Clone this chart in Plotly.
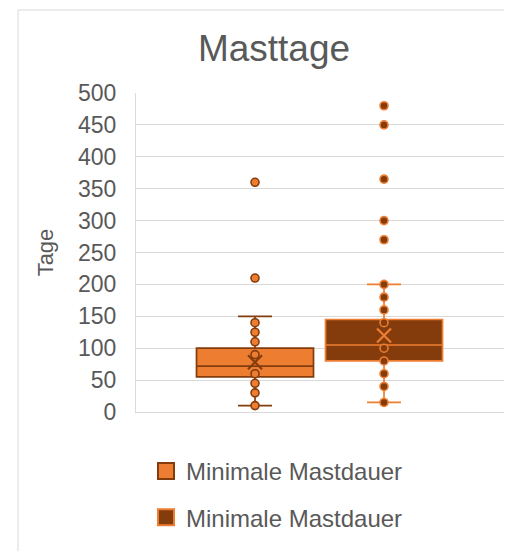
import plotly.graph_objects as go

# ---- data ----
series_names = ["Minimale Mastdauer", "Minimale Mastdauer"]
positions = [1, 2]
q1_vals = [55, 80]
median_vals = [72, 105]
q3_vals = [100, 145]
lower_vals = [10, 15]
upper_vals = [150, 200]
mean_vals = [78, 120]
points_1 = [10, 30, 45, 60, 90, 110, 125, 140, 210, 360]
points_2 = [15, 40, 60, 80, 100, 140, 160, 180, 200, 270, 300, 365, 450, 480]
y_ticks = [0, 50, 100, 150, 200, 250, 300, 350, 400, 450, 500]

ORANGE = "#ED7D31"
DARK = "#843C0C"
GRAY = "#595959"
GRID = "#D9D9D9"
FONT = "Liberation Sans, Arial, sans-serif"

fills = [ORANGE, DARK]
lines = [DARK, ORANGE]
all_points = [points_1, points_2]

# page body has an 8px margin; figure sized to fit the 512x559 window
W, H = 504, 543
L, T = 128, 85
PLOT_BOTTOM = 404
B = H - PLOT_BOTTOM
R = 0
pw = W - L - R
ph = H - T - B

fig = go.Figure()
for i in range(2):
    fig.add_trace(go.Box(
        name=series_names[i],
        x=[positions[i]],
        q1=[q1_vals[i]], median=[median_vals[i]], q3=[q3_vals[i]],
        lowerfence=[lower_vals[i]], upperfence=[upper_vals[i]],
        boxpoints=False,
        width=0.907,
        whiskerwidth=0.29,
        fillcolor=fills[i],
        line=dict(color=lines[i], width=1.7),
        legendgroup=f"g{i}",
        showlegend=False,
        hoverinfo="skip",
    ))
for i in range(2):
    fig.add_trace(go.Scatter(
        x=[positions[i]] * len(all_points[i]),
        y=all_points[i],
        mode="markers",
        marker=dict(size=8, color=fills[i], line=dict(color=lines[i], width=1.6)),
        legendgroup=f"g{i}",
        showlegend=False,
        hoverinfo="skip",
    ))
    fig.add_trace(go.Scatter(
        x=[positions[i]], y=[mean_vals[i]],
        mode="markers",
        marker=dict(symbol="x-thin", size=14, line=dict(color=lines[i], width=2.2)),
        legendgroup=f"g{i}",
        showlegend=False,
        hoverinfo="skip",
    ))
# legend entries (square swatches like the box colours)
for i in range(2):
    fig.add_trace(go.Scatter(
        name=series_names[i],
        x=[None], y=[None],
        mode="markers",
        marker=dict(symbol="square", size=17, color=fills[i], line=dict(color=lines[i], width=2)),
        legendgroup=f"g{i}",
        showlegend=True,
    ))

fx0 = (10 - L) / pw
fy_top = (PLOT_BOTTOM - 2) / ph
frame_path = f"M {fx0:.4f},-1 L {fx0:.4f},{fy_top:.4f} L 1.3,{fy_top:.4f}"

fig.update_layout(
    width=W, height=H,
    margin=dict(l=L, r=R, t=T, b=B, autoexpand=False),
    paper_bgcolor="white",
    plot_bgcolor="white",
    boxmode="overlay",
    font=dict(family=FONT, color=GRAY),
    title=dict(
        text="Masttage",
        font=dict(size=37, color=GRAY, family=FONT),
        xref="paper", x=(266 - L) / pw, xanchor="center",
        yref="container", y=1 - 40 / H, yanchor="middle",
    ),
    xaxis=dict(
        range=[0.0775, 2.992],
        showgrid=False, zeroline=False,
        showticklabels=False, ticks="",
        showline=True, linecolor=GRID, linewidth=1,
    ),
    yaxis=dict(
        range=[0, 500],
        tickvals=y_ticks,
        showgrid=True, gridcolor=GRID, gridwidth=1,
        zeroline=False,
        showline=True, linecolor=GRID, linewidth=1,
        tickfont=dict(size=23, color=GRAY, family=FONT),
        ticklabelstandoff=14,
        title=dict(text="Tage", font=dict(size=22, color=GRAY, family=FONT), standoff=18),
    ),
    legend=dict(
        x=(138 - L) / pw, xanchor="left",
        y=(PLOT_BOTTOM - 441) / ph, yanchor="top",
        font=dict(size=24, color=GRAY, family=FONT),
        tracegroupgap=12,
        itemsizing="trace",
        bgcolor="rgba(0,0,0,0)",
    ),
    shapes=[dict(
        type="path", xref="paper", yref="paper",
        path=frame_path,
        line=dict(color=GRID, width=1),
        layer="below",
    )],
)

fig.write_html("out.html")
